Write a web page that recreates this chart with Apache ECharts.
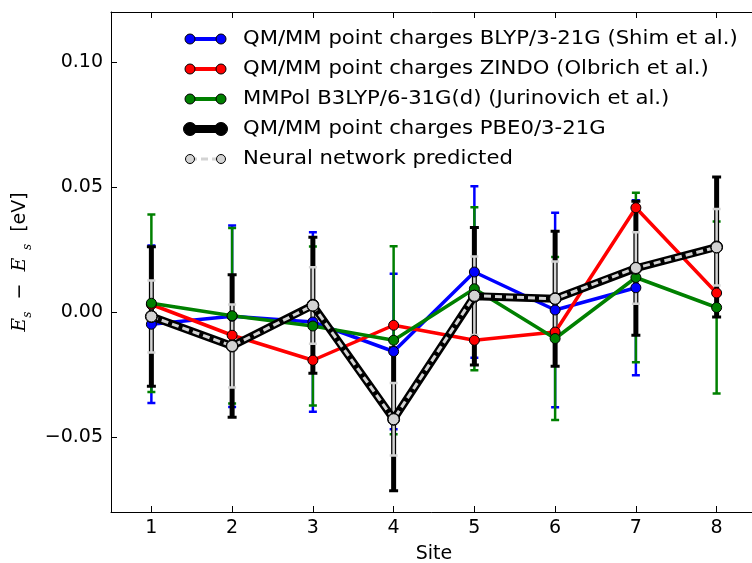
<!doctype html>
<html>
<head>
<meta charset="UTF-8">
<title>Site energies</title>
<script src="https://cdn.jsdelivr.net/npm/echarts@6/dist/echarts.min.js"></script>
<style>
  html, body { margin: 0; padding: 0; background: #fff; }
  #chart { width: 752px; height: 563px; }
</style>
</head>
<body>
<div id="chart"></div>
<script>
// sites on the x axis
var sites = [1, 2, 3, 4, 5, 6, 7, 8];
var xTicks = [1, 2, 3, 4, 5, 6, 7, 8];
var yTicks = [-0.05, 0, 0.05, 0.10];

// Shim et al. only has 7 sites
var blyp = [-0.0049, -0.0017, -0.0040, -0.0158, 0.0160, 0.0008, 0.0097];
var blypErr = [0.0315, 0.0363, 0.0359, 0.0311, 0.0343, 0.0389, 0.0350];

var zindo = [0.0030, -0.0093, -0.0193, -0.0053, -0.0113, -0.0080, 0.0417, 0.0076];

var mmpol = [0.0035, -0.0015, -0.0056, -0.0113, 0.0093, -0.0106, 0.0138, 0.0018];
var mmpolErr = [0.0355, 0.0351, 0.0318, 0.0376, 0.0326, 0.0326, 0.0339, 0.0344];

var pbe0 = [-0.0018, -0.0136, 0.0027, -0.0429, 0.0063, 0.0053, 0.0175, 0.0260];
var pbe0Err = [0.0279, 0.0285, 0.0272, 0.0286, 0.0275, 0.0270, 0.0268, 0.0280];

var nn = [-0.0018, -0.0136, 0.0026, -0.0429, 0.0065, 0.0053, 0.0176, 0.0259];
var nnErr = [0.0144, 0.0166, 0.0153, 0.0145, 0.0157, 0.0149, 0.0143, 0.0153];

var legendNames = [
  'QM/MM point charges BLYP/3-21G (Shim et al.)',
  'QM/MM point charges ZINDO (Olbrich et al.)',
  'MMPol B3LYP/6-31G(d) (Jurinovich et al.)',
  'QM/MM point charges PBE0/3-21G',
  'Neural network predicted'
];

function pts(vals) {
  return vals.map(function (v, i) { return [sites[i], v]; });
}
function bars(vals, errs) {
  return vals.map(function (v, i) { return [sites[i], v - errs[i], v + errs[i]]; });
}

function errorSeries(vals, errs, color, width, capW, capT) {
  return {
    type: 'custom',
    z: 1,
    silent: true,
    data: bars(vals, errs),
    renderItem: function (params, api) {
      var x = api.value(0);
      var top = api.coord([x, api.value(2)]);
      var bot = api.coord([x, api.value(1)]);
      var st = { stroke: color, lineWidth: width };
      var cs = { stroke: color, lineWidth: capT };
      return {
        type: 'group',
        children: [
          { type: 'line', shape: { x1: top[0], y1: top[1], x2: bot[0], y2: bot[1] }, style: st },
          { type: 'line', shape: { x1: top[0] - capW / 2, y1: top[1], x2: top[0] + capW / 2, y2: top[1] }, style: cs },
          { type: 'line', shape: { x1: bot[0] - capW / 2, y1: bot[1], x2: bot[0] + capW / 2, y2: bot[1] }, style: cs }
        ]
      };
    }
  };
}

function lineSeries(name, vals, color, width, size, fill, dash) {
  return {
    name: name,
    type: 'line',
    z: 2,
    data: pts(vals),
    symbol: 'circle',
    symbolSize: size,
    lineStyle: { color: color, width: width, type: dash || 'solid' },
    itemStyle: { color: fill, borderColor: '#000', borderWidth: 1 },
    emphasis: { disabled: true }
  };
}

// legend drawn by hand so the handle looks like matplotlib's (two markers)
var handles = [
  { color: '#0000ff', width: 4, fill: '#0000ff', r: 5 },
  { color: '#ff0000', width: 4, fill: '#ff0000', r: 5 },
  { color: '#008000', width: 4, fill: '#008000', r: 5 },
  { color: '#000000', width: 8, fill: '#000000', r: 6.5 },
  { color: '#d3d3d3', width: 3, fill: '#d3d3d3', r: 4.5, dash: [7, 4] }
];
var legendItems = [];
handles.forEach(function (h, i) {
  var y = 39 + 30 * i;
  legendItems.push({
    type: 'line', z: 10,
    shape: { x1: 190, y1: y, x2: 221, y2: y },
    style: { stroke: h.color, lineWidth: h.width, lineDash: h.dash || null }
  });
  [190, 221].forEach(function (cx) {
    legendItems.push({
      type: 'circle', z: 11,
      shape: { cx: cx, cy: y, r: h.r },
      style: { fill: h.fill, stroke: '#000', lineWidth: 1 }
    });
  });
  // matplotlib's text runs wider than the browser's DejaVu, stretch a bit
  legendItems.push({
    type: 'text', z: 11, x: 243, y: y, scaleX: 1.115,
    style: {
      text: legendNames[i], fill: '#000',
      font: '19px "DejaVu Sans"', verticalAlign: 'middle'
    }
  });
});

var option = {
  animation: false,
  backgroundColor: '#fff',
  grid: { left: 111, top: 12, width: 646, height: 500, outerBoundsMode: 'none', containLabel: false },
  xAxis: [{
    type: 'value',
    min: 0.5,
    max: 8.5,
    name: 'Site',
    nameLocation: 'middle',
    nameGap: 33,
    nameTextStyle: { fontFamily: 'DejaVu Sans', fontSize: 19, color: '#000' },
    axisLine: { onZero: false, lineStyle: { color: '#000', width: 1 } },
    axisTick: { inside: true, length: 6, customValues: xTicks, lineStyle: { color: '#000' } },
    axisLabel: {
      customValues: xTicks, margin: 7,
      fontFamily: 'DejaVu Sans', fontSize: 19, color: '#000'
    },
    splitLine: { show: false }
  }, {
    type: 'value',
    position: 'top',
    min: 0.5,
    max: 8.5,
    axisLine: { onZero: false, lineStyle: { color: '#000', width: 1 } },
    axisTick: { inside: true, length: 6, customValues: xTicks, lineStyle: { color: '#000' } },
    axisLabel: { show: false },
    splitLine: { show: false }
  }],
  yAxis: {
    type: 'value',
    min: -0.08,
    max: 0.12,
    name: '{e|E}{s|s}  −  {e|E}{s|  s}  [eV]',
    nameLocation: 'middle',
    nameRotate: 90,
    nameGap: 69,
    nameTextStyle: {
      fontFamily: 'DejaVu Sans', fontSize: 19, color: '#000',
      rich: {
        e: { fontFamily: 'DejaVu Serif', fontStyle: 'italic', fontSize: 19, color: '#000', verticalAlign: 'bottom' },
        s: { fontFamily: 'DejaVu Serif', fontStyle: 'italic', fontSize: 12, color: '#000', verticalAlign: 'bottom', padding: [0, 0, -4, 0] }
      }
    },
    axisLine: { show: true, onZero: false, lineStyle: { color: '#000', width: 1 } },
    axisTick: { inside: true, length: 6, customValues: yTicks, lineStyle: { color: '#000' } },
    axisLabel: {
      customValues: yTicks, margin: 8,
      fontFamily: 'DejaVu Sans', fontSize: 19, color: '#000',
      formatter: function (v) {
        var s = Math.abs(v).toFixed(2);
        return v < -1e-9 ? '\u2212' + s : s;
      }
    },
    splitLine: { show: false }
  },
  graphic: legendItems,
  series: [
    errorSeries(blyp, blypErr, '#0000ff', 2.5, 8, 2.5),
    errorSeries(mmpol, mmpolErr, '#008000', 2.5, 8, 2.5),
    errorSeries(pbe0, pbe0Err, '#000000', 5, 9, 3),
    errorSeries(nn, nnErr, '#d3d3d3', 2.5, 8, 2.5),
    lineSeries(legendNames[0], blyp, '#0000ff', 3.5, 10, '#0000ff'),
    lineSeries(legendNames[1], zindo, '#ff0000', 3.5, 10, '#ff0000'),
    lineSeries(legendNames[2], mmpol, '#008000', 3.5, 10, '#008000'),
    lineSeries(legendNames[3], pbe0, '#000000', 8, 12, '#000000'),
    lineSeries(legendNames[4], nn, '#d3d3d3', 3, 11, '#d3d3d3', [7, 4])
  ]
};

var myChart = echarts.init(document.getElementById('chart'));
myChart.setOption(option);
</script>
</body>
</html>
